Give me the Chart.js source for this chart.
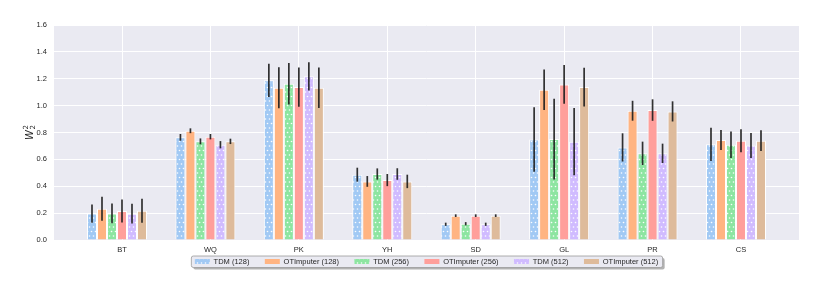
<!DOCTYPE html>
<html>
<head>
<meta charset="utf-8">
<script src="https://cdn.jsdelivr.net/npm/chart.js@4/dist/chart.umd.min.js"></script>
<style>
  html, body { margin: 0; padding: 0; background: #ffffff; }
  #wrap { width: 822px; height: 290px; position: relative; }
</style>
</head>
<body>
<div id="wrap"><canvas id="c" width="822" height="290"></canvas></div>
<script>
// ---- data ----
const categories = ['BT', 'WQ', 'PK', 'YH', 'SD', 'GL', 'PR', 'CS'];
const seriesNames = ['TDM (128)', 'OTImputer (128)', 'TDM (256)', 'OTImputer (256)', 'TDM (512)', 'OTImputer (512)'];

const tdm128    = [0.197, 0.764, 1.188, 0.486, 0.117, 0.747, 0.689, 0.712];
const tdm128Err = [0.068, 0.025, 0.124, 0.052, 0.012, 0.240, 0.105, 0.124];
const ot128     = [0.233, 0.813, 1.133, 0.436, 0.181, 1.118, 0.962, 0.744];
const ot128Err  = [0.089, 0.018, 0.153, 0.040, 0.010, 0.150, 0.074, 0.074];
const tdm256    = [0.198, 0.734, 1.163, 0.491, 0.121, 0.751, 0.645, 0.709];
const tdm256Err = [0.074, 0.022, 0.154, 0.042, 0.012, 0.300, 0.087, 0.098];
const ot256     = [0.216, 0.769, 1.138, 0.446, 0.181, 1.158, 0.967, 0.739];
const ot256Err  = [0.086, 0.020, 0.146, 0.045, 0.010, 0.144, 0.080, 0.086];
const tdm512    = [0.196, 0.709, 1.218, 0.491, 0.117, 0.732, 0.645, 0.704];
const tdm512Err = [0.074, 0.027, 0.105, 0.043, 0.012, 0.250, 0.072, 0.093];
const ot512     = [0.218, 0.734, 1.133, 0.436, 0.181, 1.138, 0.957, 0.739];
const ot512Err  = [0.089, 0.020, 0.151, 0.050, 0.010, 0.144, 0.075, 0.077];

const yTickMin = 0.0, yTickMax = 1.6, yTickStep = 0.2;
const yTitle = { base: 'W', sup: '2', sub: '2' };

// ---- style ----
const colors = ['#a1c9f4', '#ffb482', '#8de5a1', '#ff9f9b', '#d0bbff', '#debb9b'];
const hatched = [true, false, true, false, true, false];
const FONT = "'Liberation Sans', Arial, sans-serif";

function dotPattern(base) {
  const t = document.createElement('canvas');
  t.width = 8; t.height = 9;
  const g = t.getContext('2d');
  g.fillStyle = base; g.fillRect(0, 0, 8, 9);
  g.fillStyle = 'rgba(255,255,255,0.95)';
  const dots = [[1.5, 2], [5.5, 2], [3.5, 6.5], [7.5, 6.5]];
  for (const [x, y] of dots) { g.beginPath(); g.arc(x, y, 0.8, 0, Math.PI * 2); g.fill(); }
  g.beginPath(); g.arc(-0.5, 6.5, 0.8, 0, Math.PI * 2); g.fill();
  return g.createPattern(t, 'repeat');
}

const values = [tdm128, ot128, tdm256, ot256, tdm512, ot512];
const errors = [tdm128Err, ot128Err, tdm256Err, ot256Err, tdm512Err, ot512Err];

const datasets = values.map((vals, k) => ({
  label: seriesNames[k],
  data: vals.map((v, i) => ({ x: i, y: v })),
  errors: errors[k],
  backgroundColor: hatched[k] ? dotPattern(colors[k]) : colors[k],
  borderColor: '#ffffff',
  borderWidth: 1,
}));
// empty spacer slot so the tick sits on the 4th bar (as in the source figure)
datasets.push({ label: '_spacer', data: categories.map((c, i) => ({ x: i, y: null })), backgroundColor: 'rgba(0,0,0,0)', borderWidth: 0 });

const LEGEND_TEXT_Y = 261.5;

const bgPlugin = {
  id: 'bg',
  afterLayout(chart) {
    const lg = chart.legend;
    if (!lg) return;
    const pad = lg.options.labels.padding;
    const fs = lg.options.labels.font.size;
    const targetTop = LEGEND_TEXT_Y - fs / 2 - pad;
    const dy = targetTop - lg.top;
    lg.top += dy; lg.bottom += dy;
  },
  beforeDraw(chart) {
    const { ctx, chartArea: a } = chart;
    ctx.save();
    ctx.fillStyle = '#eaeaf2';
    ctx.fillRect(a.left, a.top, a.right - a.left, a.bottom - a.top);
    // legend frame
    const lg = chart.legend;
    if (lg && lg.lineWidths) {
      const pad = lg.options.labels.padding;
      const start = (lg.left + pad + lg.right - lg.lineWidths[0]) / 2;
      const end = start + lg.lineWidths[0] - pad;
      const x0 = start - 3.5, x1 = end + 4.5, y0 = LEGEND_TEXT_Y - 5.5, y1 = LEGEND_TEXT_Y + 6;
      const r = 2;
      const rr = (x, y, w, h) => { ctx.beginPath(); ctx.roundRect(x, y, w, h, r); };
      ctx.fillStyle = 'rgba(0,0,0,0.3)';
      rr(x0 + 2, y0 + 2, x1 - x0, y1 - y0); ctx.fill();
      ctx.fillStyle = '#eaeaf2';
      rr(x0, y0, x1 - x0, y1 - y0); ctx.fill();
      ctx.strokeStyle = '#9a9a9a'; ctx.lineWidth = 0.8;
      rr(x0, y0, x1 - x0, y1 - y0); ctx.stroke();
    }
    ctx.restore();
  }
};

const errPlugin = {
  id: 'errbars',
  afterDatasetsDraw(chart) {
    const { ctx } = chart;
    const ys = chart.scales.y;
    ctx.save();
    ctx.strokeStyle = 'rgba(28,28,28,0.9)';
    ctx.lineWidth = 1.7;
    chart.data.datasets.forEach((ds, k) => {
      if (!ds.errors) return;
      const meta = chart.getDatasetMeta(k);
      meta.data.forEach((el, i) => {
        const v = ds.data[i].y, e = ds.errors[i];
        ctx.beginPath();
        ctx.moveTo(el.x, ys.getPixelForValue(v - e));
        ctx.lineTo(el.x, ys.getPixelForValue(v + e));
        ctx.stroke();
      });
    });
    ctx.restore();
  }
};

const titlePlugin = {
  id: 'ytitle',
  afterDraw(chart) {
    const { ctx, chartArea: a } = chart;
    ctx.save();
    ctx.translate(29, (a.top + a.bottom) / 2);
    ctx.rotate(-Math.PI / 2);
    ctx.fillStyle = '#262626';
    ctx.textBaseline = 'alphabetic';
    ctx.font = "italic 10px 'DejaVu Sans'";
    const wW = ctx.measureText(yTitle.base).width;
    ctx.font = "7px 'DejaVu Sans'";
    const w2 = ctx.measureText(yTitle.sup).width;
    const total = wW + w2 + 0.5;
    const x0 = -total / 2;
    ctx.font = "italic 10px 'DejaVu Sans'";
    ctx.fillText(yTitle.base, x0, 3.5);
    ctx.font = "7px 'DejaVu Sans'";
    ctx.fillText(yTitle.sup, x0 + wW + 0.5, -1);
    ctx.fillText(yTitle.sub, x0 + wW + 0.5, 6);
    ctx.restore();
  }
};

new Chart(document.getElementById('c'), {
  type: 'bar',
  data: { datasets },
  plugins: [bgPlugin, errPlugin, titlePlugin],
  options: {
    responsive: false,
    animation: false,
    devicePixelRatio: 1,
    layout: { padding: { left: 0, right: 23, top: 25, bottom: 2.1 } },
    datasets: { bar: { categoryPercentage: 0.7916, barPercentage: 1.0 } },
    plugins: {
      tooltip: { enabled: false },
      legend: {
        position: 'bottom',
        fullSize: false,
        labels: {
          font: { family: FONT, size: 7.5 },
          color: '#262626',
          boxWidth: 15,
          boxHeight: 5,
          padding: 15.4,
          generateLabels(chart) {
            return Chart.defaults.plugins.legend.labels.generateLabels(chart)
              .filter(l => l.datasetIndex < seriesNames.length)
              .map(l => Object.assign(l, { lineWidth: 0, strokeStyle: 'rgba(0,0,0,0)' }));
          }
        }
      }
    },
    scales: {
      x: {
        type: 'linear',
        min: -0.769,
        max: 7.656,
        offset: false,
        border: { display: false },
        grid: { color: '#ffffff', lineWidth: 1, drawTicks: false, offset: false },
        ticks: {
          stepSize: 1,
          includeBounds: false,
          autoSkip: false,
          maxRotation: 0,
          padding: 5,
          font: { family: FONT, size: 7.5 },
          color: '#262626',
          callback: (v) => (Number.isInteger(v) && categories[v] !== undefined) ? categories[v] : ''
        },
        afterFit: (s) => { s.height = 15; }
      },
      y: {
        min: yTickMin,
        max: yTickMax,
        border: { display: false },
        grid: { color: '#ffffff', lineWidth: 1, drawTicks: false },
        ticks: {
          stepSize: yTickStep,
          padding: 7,
          font: { family: FONT, size: 7.5 },
          color: '#262626',
          callback: (v) => v.toFixed(1)
        },
        afterFit: (s) => { s.width = 54; }
      }
    }
  }
});
</script>
</body>
</html>
